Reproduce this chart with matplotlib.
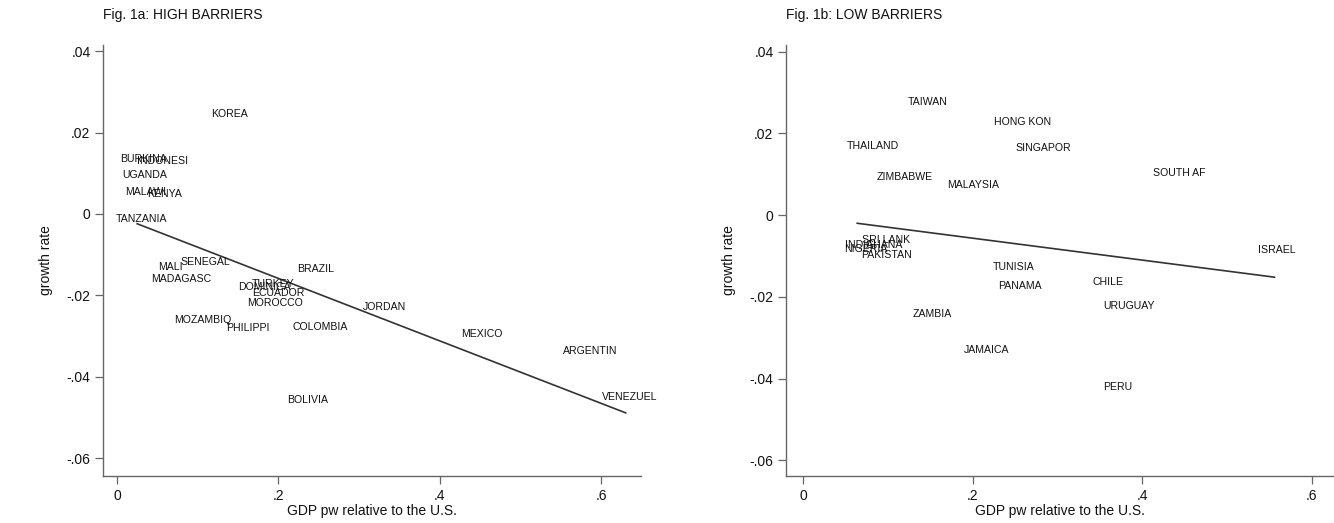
import matplotlib
matplotlib.use("Agg")
import matplotlib.pyplot as plt
from matplotlib import font_manager

names = {f.name for f in font_manager.fontManager.ttflist}
BASE = "Liberation Sans" if "Liberation Sans" in names else "DejaVu Sans"
NARROW = "Liberation Sans Narrow" if "Liberation Sans Narrow" in names else BASE
plt.rcParams['font.family'] = [BASE, 'DejaVu Sans']

# ---- Panel a: high barriers ----
high_countries = ["KOREA", "BURKINA", "INDONESI", "UGANDA", "MALAWI", "KENYA", "TANZANIA",
                  "MALI", "SENEGAL", "MADAGASC", "DOMINICA", "TURKEY", "ECUADOR", "MOROCCO",
                  "BRAZIL", "JORDAN", "MOZAMBIQ", "PHILIPPI", "COLOMBIA", "BOLIVIA",
                  "MEXICO", "ARGENTIN", "VENEZUEL"]
high_gdp = [0.116, 0.004, 0.025, 0.007, 0.010, 0.037, -0.002,
            0.051, 0.079, 0.042, 0.150, 0.167, 0.167, 0.161,
            0.223, 0.305, 0.071, 0.135, 0.217, 0.211,
            0.426, 0.552, 0.601]
high_growth = [0.0246, 0.0135, 0.0130, 0.0096, 0.0054, 0.0049, -0.0012,
               -0.0130, -0.0118, -0.0160, -0.0179, -0.0172, -0.0194, -0.0219,
               -0.0135, -0.0228, -0.0260, -0.0280, -0.0278, -0.0457,
               -0.0295, -0.0337, -0.0450]
high_fit_x = [0.025, 0.630]
high_fit_intercept = -0.0005
high_fit_slope = -0.0768

# ---- Panel b: low barriers ----
low_countries = ["TAIWAN", "HONG KON", "THAILAND", "SINGAPOR", "ZIMBABWE", "MALAYSIA",
                 "SOUTH AF", "ISRAEL", "CHILE", "SRI LANK", "INDIA", "GHANA", "NIGERIA",
                 "PAKISTAN", "TUNISIA", "PANAMA", "URUGUAY", "ZAMBIA", "JAMAICA", "PERU"]
low_gdp = [0.124, 0.225, 0.052, 0.251, 0.087, 0.170,
           0.413, 0.537, 0.342, 0.070, 0.050, 0.074, 0.048,
           0.068, 0.224, 0.230, 0.354, 0.129, 0.190, 0.354]
low_growth = [0.0276, 0.0227, 0.0169, 0.0164, 0.0093, 0.0073,
              0.0103, -0.0086, -0.0164, -0.0061, -0.0073, -0.0073, -0.0083,
              -0.0098, -0.0127, -0.0174, -0.0222, -0.0242, -0.0330, -0.0421]
low_fit_x = [0.064, 0.556]
low_fit_intercept = -0.00028
low_fit_slope = -0.0268

x_ticks = [0, 0.2, 0.4, 0.6]
x_tick_labels = ["0", ".2", ".4", ".6"]
y_ticks = [0.04, 0.02, 0, -0.02, -0.04, -0.06]
y_tick_labels = [".04", ".02", "0", "-.02", "-.04", "-.06"]

W, H = 1334, 523
fig = plt.figure(figsize=(W / 100, H / 100), dpi=100)

def px_axes(x0, x1, y0, y1):
    return fig.add_axes([x0 / W, 1 - y1 / H, (x1 - x0) / W, (y1 - y0) / H])

ax1 = px_axes(103, 641, 45, 476)
ax2 = px_axes(786, 1333, 45, 476)

panels = [
    (ax1, high_countries, high_gdp, high_growth, high_fit_x, high_fit_intercept, high_fit_slope,
     "Fig. 1a: HIGH BARRIERS", (-0.0173, 0.649), (-0.0644, 0.0415)),
    (ax2, low_countries, low_gdp, low_growth, low_fit_x, low_fit_intercept, low_fit_slope,
     "Fig. 1b: LOW BARRIERS", (-0.020, 0.625), (-0.0638, 0.0416)),
]

for ax, names_, xs, ys, fx, b0, b1, title, xl, yl in panels:
    for n, x, y in zip(names_, xs, ys):
        ax.text(x, y, n, ha='left', va='center', fontsize=7.6, family=[NARROW, 'DejaVu Sans'],
                color='#111111')
    ax.plot(fx, [b0 + b1 * v for v in fx], color='#333333', lw=1.2)
    ax.set_xlim(*xl)
    ax.set_ylim(*yl)
    ax.set_xticks(x_ticks)
    ax.set_xticklabels(x_tick_labels)
    ax.set_yticks(y_ticks)
    ax.set_yticklabels(y_tick_labels)
    for s in ['top', 'right']:
        ax.spines[s].set_visible(False)
    for s in ['left', 'bottom']:
        ax.spines[s].set_color('#666666')
        ax.spines[s].set_linewidth(1.0)
    ax.tick_params(direction='out', length=6, width=0.9, color='#666666',
                   labelsize=10, labelcolor='#111111', pad=3)
    ax.set_xlabel("GDP pw relative to the U.S.", fontsize=10, labelpad=1, color='#111111')
    ax.set_ylabel("growth rate", fontsize=10, labelpad=10, color='#111111')
    ax.text(0, 1.0 + 30 / 431, title, transform=ax.transAxes, ha='left', va='center',
            fontsize=10, color='#111111')

fig.savefig("out.png", dpi=100)
